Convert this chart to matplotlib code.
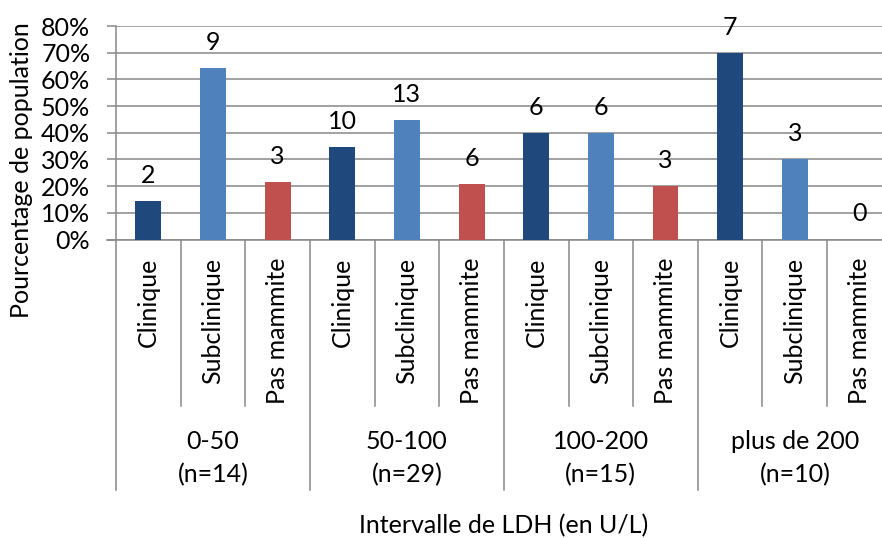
import matplotlib
matplotlib.use("Agg")
import matplotlib.pyplot as plt
import numpy as np
from matplotlib.ticker import FuncFormatter
from matplotlib.transforms import blended_transform_factory

plt.rcParams['font.family'] = ['Lato', 'DejaVu Sans']

# LDH intervals and group sizes
groups = ["0-50", "50-100", "100-200", "plus de 200"]
group_n = [14, 29, 15, 10]
statuses = ["Clinique", "Subclinique", "Pas mammite"]

# number of cows per status in each interval
clinique = [2, 10, 6, 7]
subclinique = [9, 13, 6, 3]
pas_mammite = [3, 6, 3, 0]

colors = ["#1F497D", "#4F81BD", "#C0504D"]
grid_col = "#888888"
fs = 18

W, H = 882, 538
fig = plt.figure(figsize=(W / 100, H / 100), dpi=100)

# axes box in pixels (extends past the right edge of the canvas)
ax_left, ax_right = 116, 891.8
ax_top, ax_bottom = 26, 239.5
ax = fig.add_axes([ax_left / W, 1 - ax_bottom / H,
                   (ax_right - ax_left) / W, (ax_bottom - ax_top) / H])
ax_h = ax_bottom - ax_top

counts = [clinique, subclinique, pas_mammite]
n_slots = len(groups) * len(statuses)
ax.set_xlim(0, n_slots)
ax.set_ylim(0, 0.8)

for g, n in enumerate(group_n):
    for s in range(len(statuses)):
        c = counts[s][g]
        pct = c / n
        x = g * 3 + s + 0.5
        ax.bar(x, pct, width=0.40, color=colors[s], zorder=3)
        ax.annotate(str(c), (x, pct), xytext=(0, 13), textcoords="offset points",
                    ha="center", va="baseline", fontsize=fs, color="black",
                    annotation_clip=False)

# y axis
ax.set_yticks(np.arange(0, 0.81, 0.1))
ax.yaxis.set_major_formatter(FuncFormatter(lambda v, _: f"{v * 100:.0f}%"))
ax.tick_params(axis="y", length=6.5, width=1.1, color=grid_col, pad=12, labelsize=fs)
ax.yaxis.grid(True, color=grid_col, linewidth=1.1, zorder=0)
ax.set_axisbelow(True)
ax.set_xticks([])
for side in ["top", "right"]:
    ax.spines[side].set_visible(False)
for side in ["left", "bottom"]:
    ax.spines[side].set_color(grid_col)
    ax.spines[side].set_linewidth(1.1)

# bottom spine reaches the 0% tick
tr = blended_transform_factory(ax.transAxes, ax.transAxes)
ax.plot([-9 / (ax_right - ax_left), 0], [0, 0], color=grid_col, lw=1.1,
        transform=tr, clip_on=False)

# multi-level category axis
trx = blended_transform_factory(ax.transData, ax.transAxes)
small_end = -(405.7 - ax_bottom) / ax_h
big_end = -(490 - ax_bottom) / ax_h
for k in range(n_slots + 1):
    y_end = big_end if k % 3 == 0 else small_end
    ax.plot([k, k], [0, y_end], color=grid_col, lw=1.1, transform=trx,
            clip_on=False)

label_top = -(258 - ax_bottom) / ax_h
for g in range(len(groups)):
    for s, name in enumerate(statuses):
        ax.text(g * 3 + s + 0.5, label_top, name, rotation=90, ha="center",
                va="top", fontsize=fs, transform=trx)
    ax.text(g * 3 + 1.5, -(441.7 - ax_bottom) / ax_h, groups[g], ha="center",
            va="center", fontsize=fs, transform=trx)
    ax.text(g * 3 + 1.5, -(475 - ax_bottom) / ax_h, f"(n={group_n[g]})",
            ha="center", va="center", fontsize=fs, transform=trx)

fig.text(504 / W, 1 - 526 / H, "Intervalle de LDH (en U/L)", ha="center",
         va="center", fontsize=fs)
fig.text(22 / W, 1 - 170 / H, "Pourcentage de population", rotation=90,
         ha="center", va="center", fontsize=fs)

fig.savefig("out.png", dpi=100)
